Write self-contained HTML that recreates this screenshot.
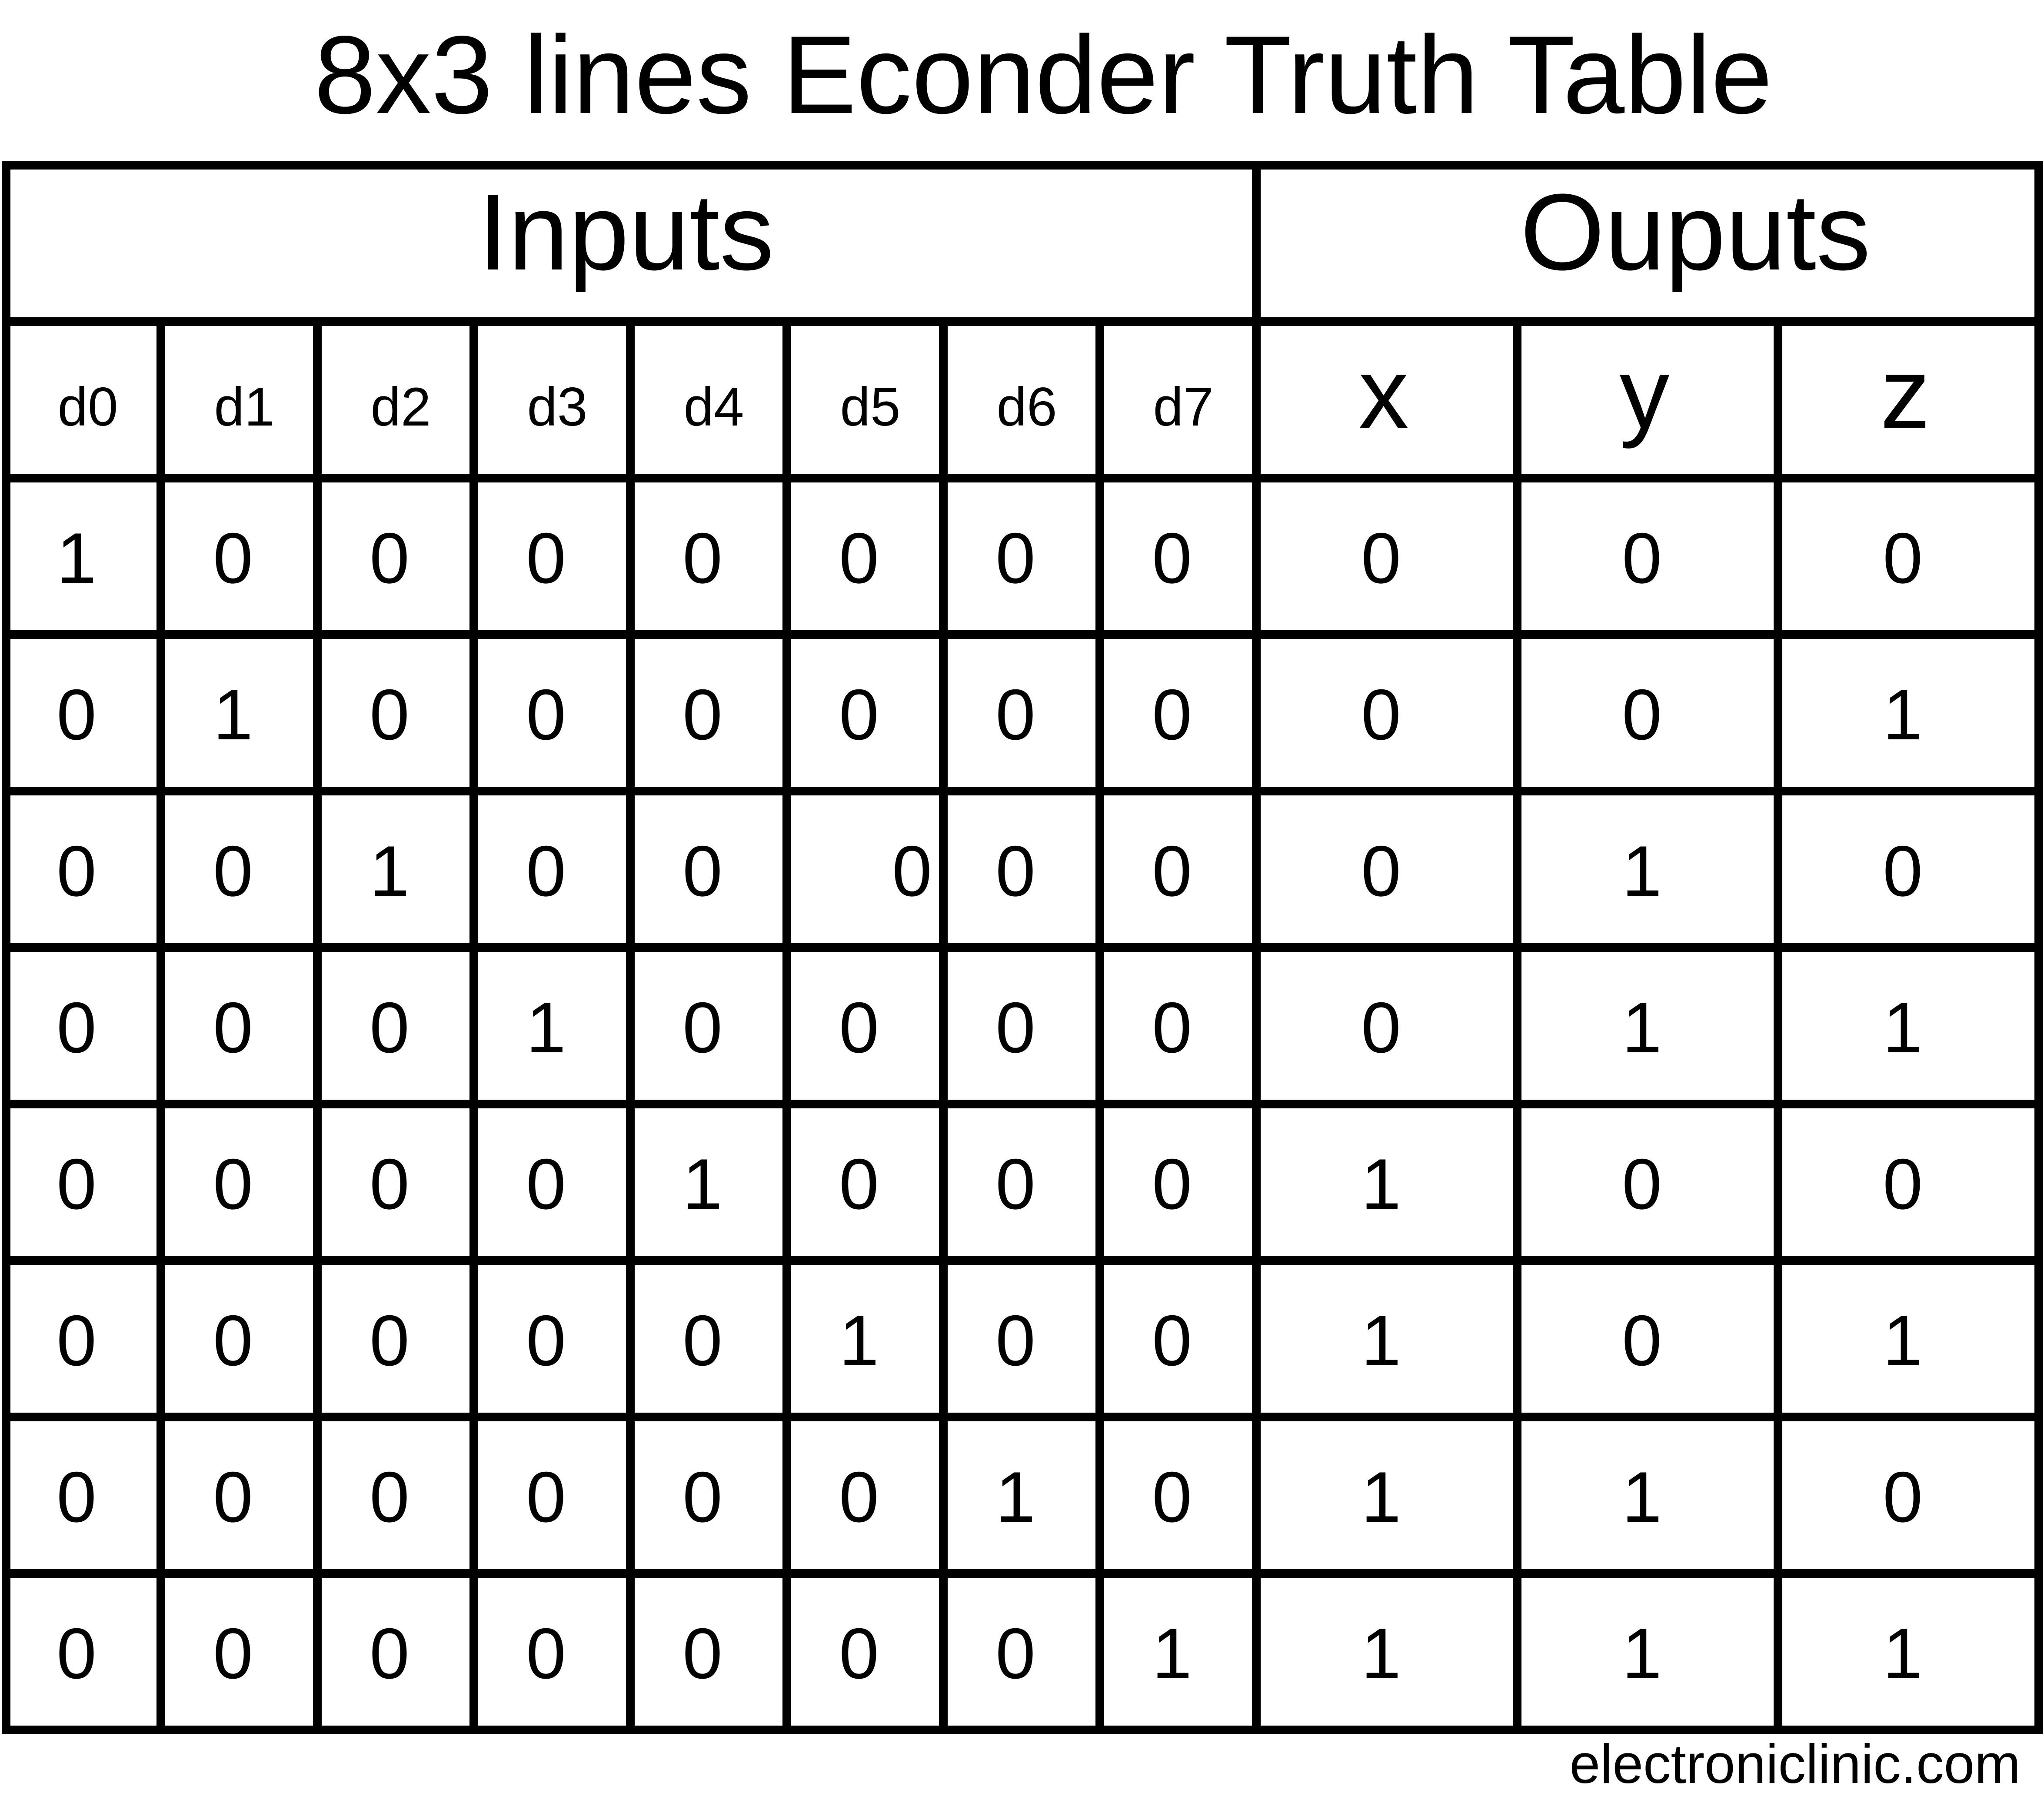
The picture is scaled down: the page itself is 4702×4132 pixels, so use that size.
<!DOCTYPE html>
<html><head><meta charset="utf-8"><style>html,body{margin:0;padding:0;background:#fff}svg{display:block}</style></head>
<body>
<svg xmlns="http://www.w3.org/2000/svg" width="4702" height="4132" viewBox="0 0 4702 4132" font-family="Liberation Sans, Arial, sans-serif">
<rect width="4702" height="4132" fill="#fff"/>
<text x="2400" y="260" font-size="255" text-anchor="middle">8x3 lines Econder Truth Table</text>
<g stroke="#000" stroke-width="20" stroke-linecap="square" fill="none">
<rect x="14" y="380" width="4676" height="3600"/>
<line x1="14" y1="740" x2="4690" y2="740"/>
<line x1="14" y1="1100" x2="4690" y2="1100"/>
<line x1="14" y1="1460" x2="4690" y2="1460"/>
<line x1="14" y1="1820" x2="4690" y2="1820"/>
<line x1="14" y1="2180" x2="4690" y2="2180"/>
<line x1="14" y1="2540" x2="4690" y2="2540"/>
<line x1="14" y1="2900" x2="4690" y2="2900"/>
<line x1="14" y1="3260" x2="4690" y2="3260"/>
<line x1="14" y1="3620" x2="4690" y2="3620"/>
<line x1="2890" y1="380" x2="2890" y2="3980"/>
<line x1="370" y1="740" x2="370" y2="3980"/>
<line x1="730" y1="740" x2="730" y2="3980"/>
<line x1="1090" y1="740" x2="1090" y2="3980"/>
<line x1="1450" y1="740" x2="1450" y2="3980"/>
<line x1="1810" y1="740" x2="1810" y2="3980"/>
<line x1="2170" y1="740" x2="2170" y2="3980"/>
<line x1="2530" y1="740" x2="2530" y2="3980"/>
<line x1="3490" y1="740" x2="3490" y2="3980"/>
<line x1="4090" y1="740" x2="4090" y2="3980"/>
</g>
<text x="1440" y="620" font-size="250" text-anchor="middle">Inputs</text>
<text x="3900" y="620" font-size="250" text-anchor="middle">Ouputs</text>
<g font-size="125" text-anchor="middle">
<text x="202" y="979">d0</text><text x="562" y="979">d1</text><text x="922" y="979">d2</text><text x="1282" y="979">d3</text>
<text x="1642" y="979">d4</text><text x="2002" y="979">d5</text><text x="2362" y="979">d6</text><text x="2722" y="979">d7</text>
</g>
<g font-size="230" text-anchor="middle">
<text x="3183" y="984">x</text><text x="3783" y="984">y</text><text x="4383" y="984">z</text>
</g>
<g font-size="165" text-anchor="middle">
<text y="1341"><tspan x="176">1</tspan><tspan x="536">0</tspan><tspan x="896">0</tspan><tspan x="1256">0</tspan><tspan x="1616">0</tspan><tspan x="1976">0</tspan><tspan x="2336">0</tspan><tspan x="2696">0</tspan><tspan x="3177">0</tspan><tspan x="3777">0</tspan><tspan x="4377">0</tspan></text>
<text y="1701"><tspan x="176">0</tspan><tspan x="536">1</tspan><tspan x="896">0</tspan><tspan x="1256">0</tspan><tspan x="1616">0</tspan><tspan x="1976">0</tspan><tspan x="2336">0</tspan><tspan x="2696">0</tspan><tspan x="3177">0</tspan><tspan x="3777">0</tspan><tspan x="4377">1</tspan></text>
<text y="2061"><tspan x="176">0</tspan><tspan x="536">0</tspan><tspan x="896">1</tspan><tspan x="1256">0</tspan><tspan x="1616">0</tspan><tspan x="2098">0</tspan><tspan x="2336">0</tspan><tspan x="2696">0</tspan><tspan x="3177">0</tspan><tspan x="3777">1</tspan><tspan x="4377">0</tspan></text>
<text y="2421"><tspan x="176">0</tspan><tspan x="536">0</tspan><tspan x="896">0</tspan><tspan x="1256">1</tspan><tspan x="1616">0</tspan><tspan x="1976">0</tspan><tspan x="2336">0</tspan><tspan x="2696">0</tspan><tspan x="3177">0</tspan><tspan x="3777">1</tspan><tspan x="4377">1</tspan></text>
<text y="2781"><tspan x="176">0</tspan><tspan x="536">0</tspan><tspan x="896">0</tspan><tspan x="1256">0</tspan><tspan x="1616">1</tspan><tspan x="1976">0</tspan><tspan x="2336">0</tspan><tspan x="2696">0</tspan><tspan x="3177">1</tspan><tspan x="3777">0</tspan><tspan x="4377">0</tspan></text>
<text y="3141"><tspan x="176">0</tspan><tspan x="536">0</tspan><tspan x="896">0</tspan><tspan x="1256">0</tspan><tspan x="1616">0</tspan><tspan x="1976">1</tspan><tspan x="2336">0</tspan><tspan x="2696">0</tspan><tspan x="3177">1</tspan><tspan x="3777">0</tspan><tspan x="4377">1</tspan></text>
<text y="3501"><tspan x="176">0</tspan><tspan x="536">0</tspan><tspan x="896">0</tspan><tspan x="1256">0</tspan><tspan x="1616">0</tspan><tspan x="1976">0</tspan><tspan x="2336">1</tspan><tspan x="2696">0</tspan><tspan x="3177">1</tspan><tspan x="3777">1</tspan><tspan x="4377">0</tspan></text>
<text y="3861"><tspan x="176">0</tspan><tspan x="536">0</tspan><tspan x="896">0</tspan><tspan x="1256">0</tspan><tspan x="1616">0</tspan><tspan x="1976">0</tspan><tspan x="2336">0</tspan><tspan x="2696">1</tspan><tspan x="3177">1</tspan><tspan x="3777">1</tspan><tspan x="4377">1</tspan></text>
</g>
<text x="4648" y="4102" font-size="127" text-anchor="end">electroniclinic.com</text>
</svg>
</body></html>
